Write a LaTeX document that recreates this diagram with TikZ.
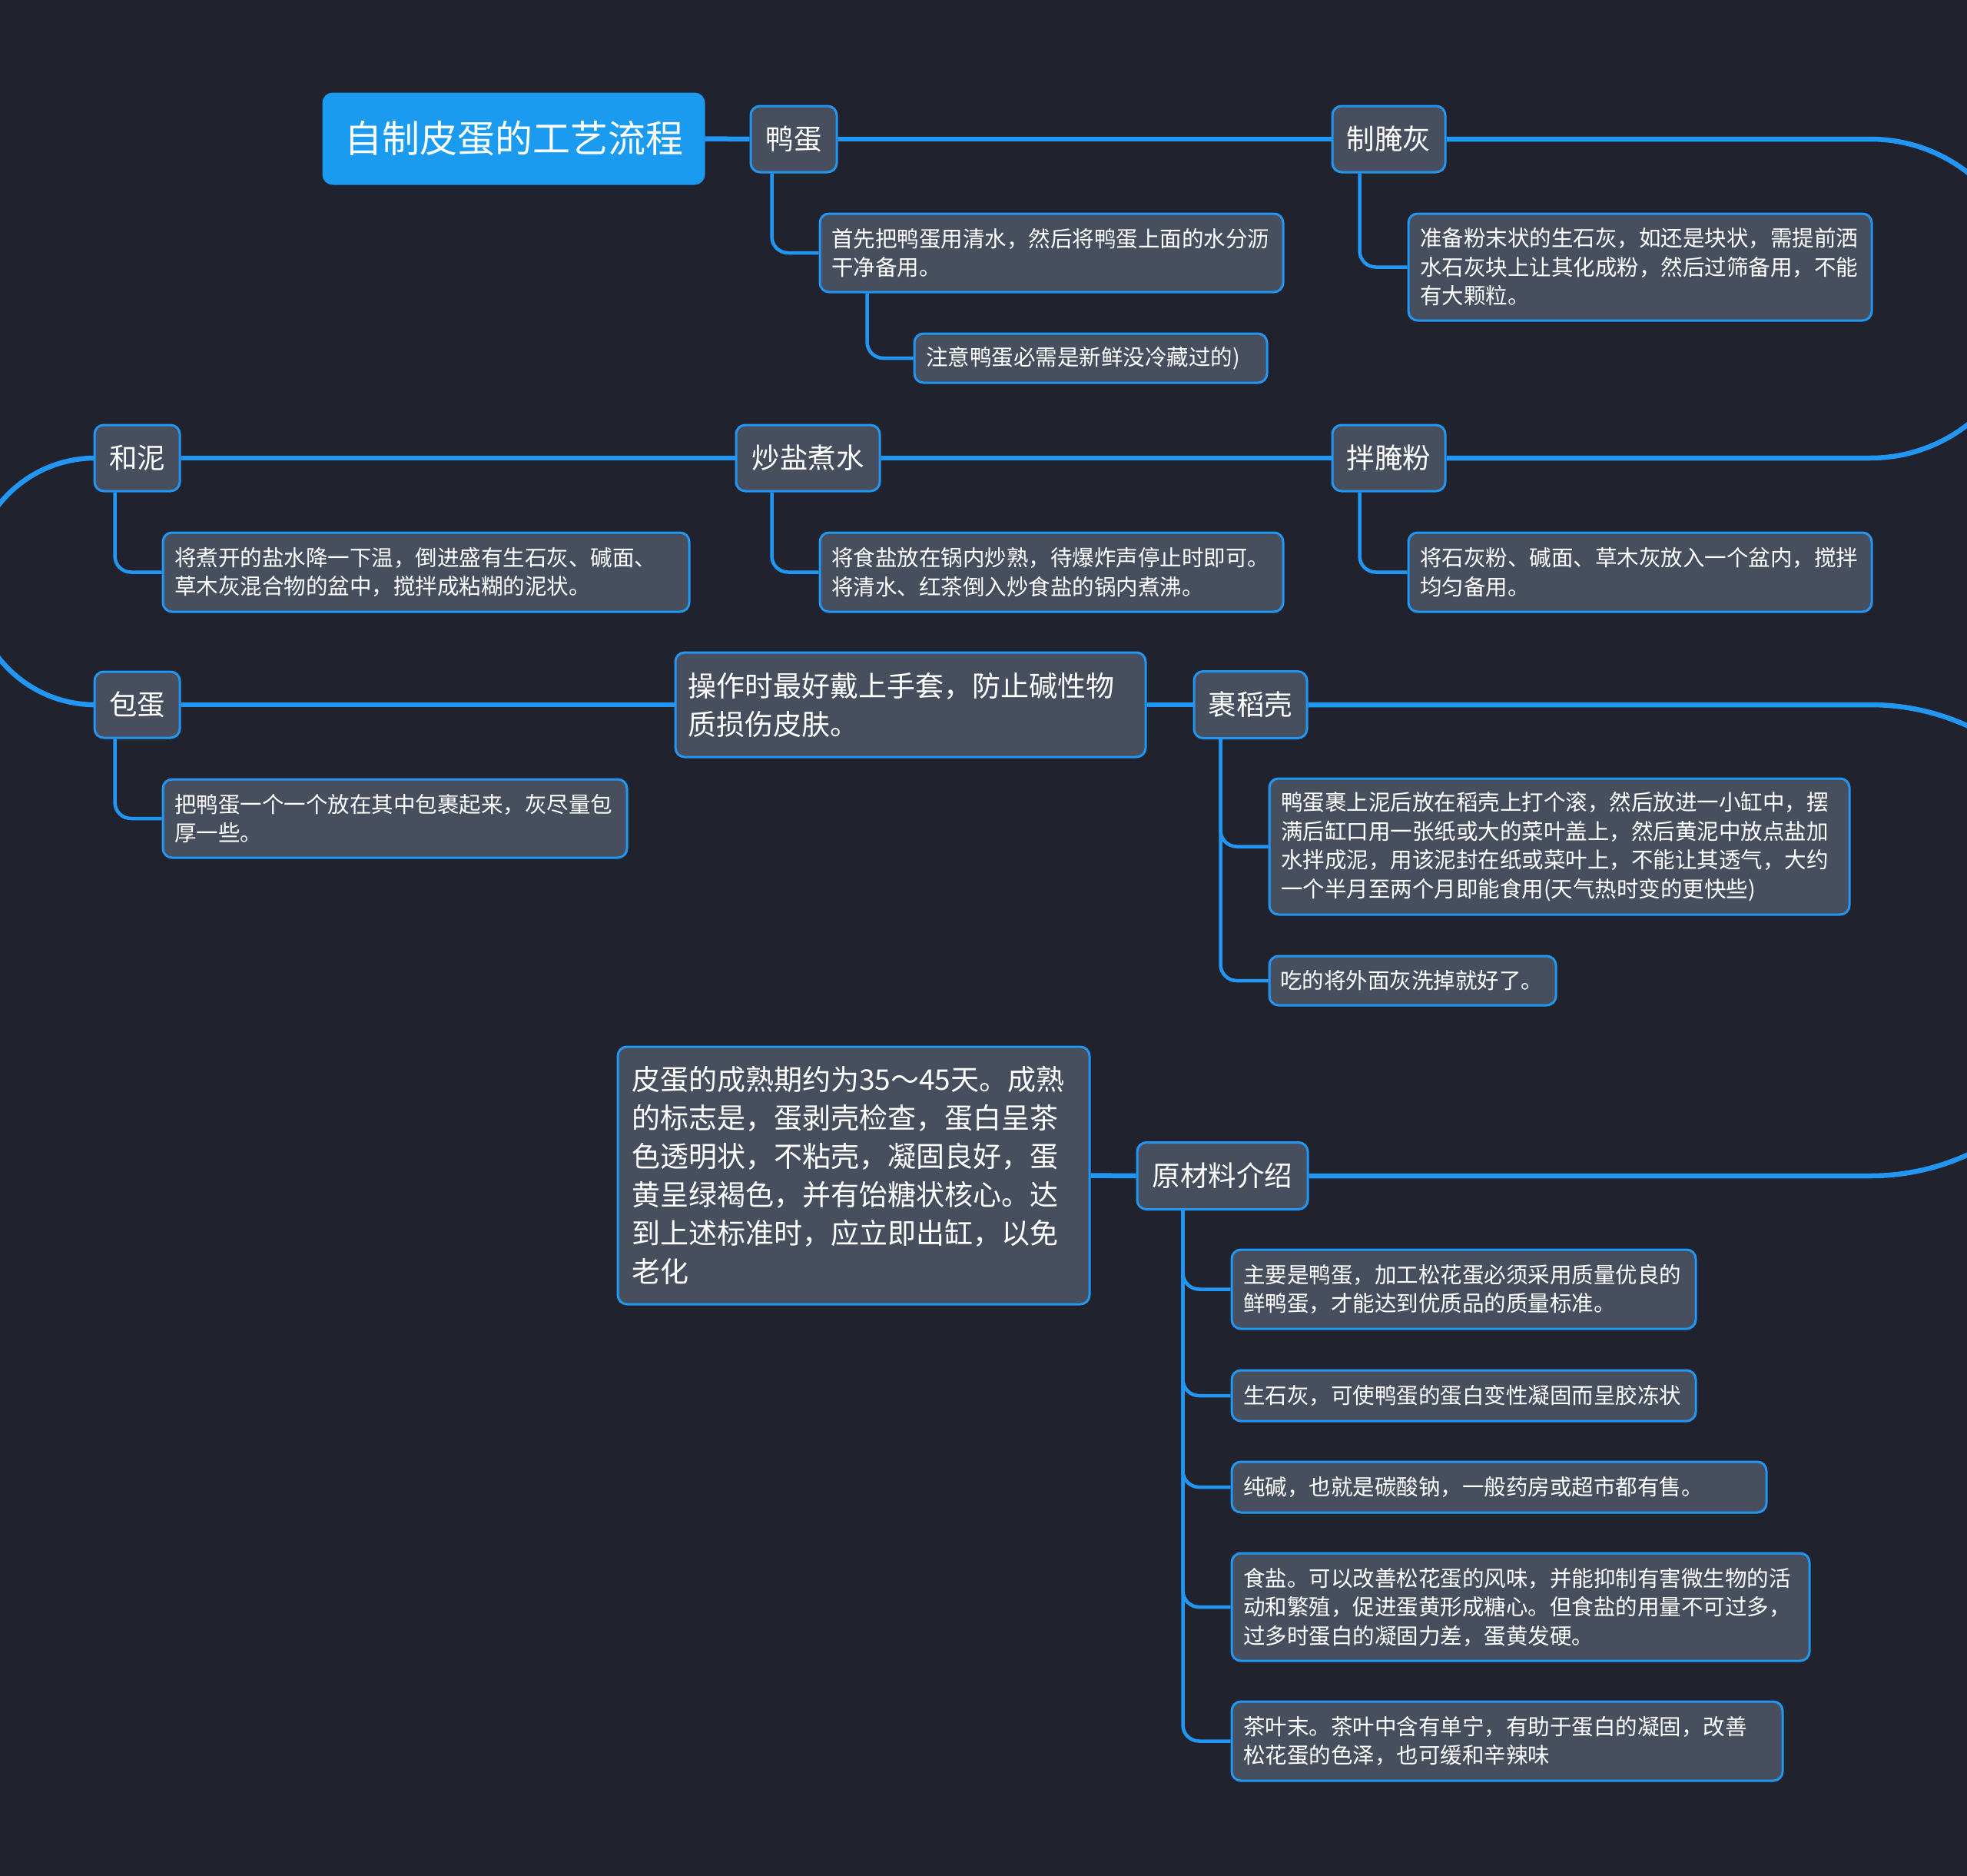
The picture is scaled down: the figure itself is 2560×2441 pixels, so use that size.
\documentclass[tikz,border=0pt]{standalone}
\usepackage{fontspec}
\newfontfamily\cjk{Noto Sans CJK SC}
\usetikzlibrary{calc}
\pgfdeclarelayer{back}
\pgfsetlayers{back,main}
\definecolor{bgc}{HTML}{20232E}
\definecolor{nodefill}{HTML}{474E5D}
\definecolor{lineblue}{HTML}{2196F3}
\definecolor{titlefill}{HTML}{1A9BF0}
\tikzset{
  basebox/.style={draw=lineblue, line width=3pt, fill=nodefill, rounded corners=12pt, text=white, inner sep=0pt, align=left},
  maintitle/.style={basebox, draw=titlefill, fill=titlefill, align=center, font=\cjk\fontsize{49}{58}\selectfont},
  topic/.style={basebox, align=center, font=\cjk\fontsize{36.5}{44}\selectfont},
  detail/.style={basebox, font=\cjk\fontsize{28.5}{37.5}\selectfont},
  bigdetail/.style={basebox, font=\cjk\fontsize{37}{50}\selectfont},
  mainline/.style={draw=lineblue, line width=6.5pt},
  childline/.style={draw=lineblue, line width=4.5pt, rounded corners=21pt}
}
\begin{document}
\begin{tikzpicture}[x=1pt,y=-1pt]
\begin{pgfonlayer}{back}
\fill[bgc] (0,0) rectangle (2560,2441);
\end{pgfonlayer}
\useasboundingbox (0,0) rectangle (2560,2441);

% main nodes
\node[maintitle, minimum width=495pt, minimum height=117pt] (title) at (668.5,180.5) {自制皮蛋的工艺流程};
\node[topic, minimum width=112pt, minimum height=86pt] (yadan) at (1033,181) {鸭蛋};
\node[topic, minimum width=147pt, minimum height=86pt] (zhiyan) at (1807.5,181) {制腌灰};
\node[topic, minimum width=147pt, minimum height=86pt] (banyan) at (1807.5,596) {拌腌粉};
\node[topic, minimum width=187pt, minimum height=86pt] (chaoyan) at (1051.5,596) {炒盐煮水};
\node[topic, minimum width=111pt, minimum height=86pt] (henii) at (178.5,596) {和泥};
\node[topic, minimum width=111pt, minimum height=86pt] (baodan) at (178.5,917) {包蛋};
\node[bigdetail, minimum width=612pt, minimum height=136pt, text width=580pt] (caozuo) at (1185,917) {操作时最好戴上手套，防止碱性物\\质损伤皮肤。};
\node[topic, minimum width=147pt, minimum height=87pt] (guodao) at (1627.5,917) {裹稻壳};
\node[topic, minimum width=222pt, minimum height=87pt] (yuancai) at (1591,1530) {原材料介绍};
\node[bigdetail, minimum width=614pt, minimum height=335pt, text width=578pt] (pidan) at (1111,1529.5) {皮蛋的成熟期约为35～45天。成熟\\的标志是，蛋剥壳检查，蛋白呈茶\\色透明状，不粘壳，凝固良好，蛋\\黄呈绿褐色，并有饴糖状核心。达\\到上述标准时，应立即出缸，以免\\老化};

% detail nodes
\node[detail, minimum width=603pt, minimum height=102pt, text width=573pt] (shouxian) at (1368.5,329) {首先把鸭蛋用清水，然后将鸭蛋上面的水分沥\\干净备用。};
\node[detail, minimum width=459pt, minimum height=64pt, text width=429pt] (zhuyi) at (1419.5,466) {注意鸭蛋必需是新鲜没冷藏过的)};
\node[detail, minimum width=603pt, minimum height=139pt, text width=573pt] (zhunbei) at (2134.5,347.5) {准备粉末状的生石灰，如还是块状，需提前洒\\水石灰块上让其化成粉，然后过筛备用，不能\\有大颗粒。};
\node[detail, minimum width=685pt, minimum height=103pt, text width=655pt] (jiangzhu) at (554.5,744.5) {将煮开的盐水降一下温，倒进盛有生石灰、碱面、\\草木灰混合物的盆中，搅拌成粘糊的泥状。};
\node[detail, minimum width=603pt, minimum height=103pt, text width=573pt] (jiangshi) at (1368.5,744.5) {将食盐放在锅内炒熟，待爆炸声停止时即可。\\将清水、红茶倒入炒食盐的锅内煮沸。};
\node[detail, minimum width=603pt, minimum height=103pt, text width=573pt] (jiangshihui) at (2134.5,744.5) {将石灰粉、碱面、草木灰放入一个盆内，搅拌\\均匀备用。};
\node[detail, minimum width=604pt, minimum height=102pt, text width=574pt] (bayadan) at (514,1065) {把鸭蛋一个一个放在其中包裹起来，灰尽量包\\厚一些。};
\node[detail, minimum width=755pt, minimum height=177pt, text width=725pt] (yadanguo) at (2029.5,1101.5) {鸭蛋裹上泥后放在稻壳上打个滚，然后放进一小缸中，摆\\满后缸口用一张纸或大的菜叶盖上，然后黄泥中放点盐加\\水拌成泥，用该泥封在纸或菜叶上，不能让其透气，大约\\一个半月至两个月即能食用(天气热时变的更快些)};
\node[detail, minimum width=373pt, minimum height=64pt, text width=345pt] (chide) at (1838.5,1276) {吃的将外面灰洗掉就好了。};
\node[detail, minimum width=604pt, minimum height=103pt, text width=574pt] (mA) at (1905,1677.5) {主要是鸭蛋，加工松花蛋必须采用质量优良的\\鲜鸭蛋，才能达到优质品的质量标准。};
\node[detail, minimum width=604pt, minimum height=66pt, text width=574pt] (mB) at (1905,1816) {生石灰，可使鸭蛋的蛋白变性凝固而呈胶冻状};
\node[detail, minimum width=696pt, minimum height=66pt, text width=666pt] (mC) at (1951,1935) {纯碱，也就是碳酸钠，一般药房或超市都有售。};
\node[detail, minimum width=752pt, minimum height=140pt, text width=722pt] (mD) at (1979,2091) {食盐。可以改善松花蛋的风味，并能抑制有害微生物的活\\动和繁殖，促进蛋黄形成糖心。但食盐的用量不可过多，\\过多时蛋白的凝固力差，蛋黄发硬。};
\node[detail, minimum width=717pt, minimum height=103pt, text width=687pt] (mE) at (1961.5,2265.5) {茶叶末。茶叶中含有单宁，有助于蛋白的凝固，改善\\松花蛋的色泽，也可缓和辛辣味};

\coordinate (rA) at (2641,0);
\coordinate (lA) at (-36,0);
\coordinate (rB) at (2740,0);

\begin{pgfonlayer}{back}
% main flow
\draw[mainline] (title.east) -- (yadan.west);
\draw[mainline] (yadan.east) -- (zhiyan.west);
\draw[mainline, rounded corners=207pt] (zhiyan.east) -- (zhiyan.east -| rA) -- (banyan.east -| rA) -- (banyan.east);
\draw[mainline] (banyan.west) -- (chaoyan.east);
\draw[mainline] (chaoyan.west) -- (henii.east);
\draw[mainline, rounded corners=160pt] (henii.west) -- (henii.west -| lA) -- (baodan.west -| lA) -- (baodan.west);
\draw[mainline] (baodan.east) -- (caozuo.west);
\draw[mainline] (caozuo.east) -- (guodao.west);
\draw[mainline, rounded corners=306pt] (guodao.east) -- (guodao.east -| rB) -- (yuancai.east -| rB) -- (yuancai.east);
\draw[mainline] (yuancai.west) -- (pidan.east);
% children
\draw[childline] (yadan.south west) ++(29,0) |- (shouxian.west);
\draw[childline] (shouxian.south west) ++(63,0) |- (zhuyi.west);
\draw[childline] (zhiyan.south west) ++(37,0) |- (zhunbei.west);
\draw[childline] (henii.south west) ++(28,0) |- (jiangzhu.west);
\draw[childline] (chaoyan.south west) ++(48,0) |- (jiangshi.west);
\draw[childline] (banyan.south west) ++(37,0) |- (jiangshihui.west);
\draw[childline] (baodan.south west) ++(28,0) |- (bayadan.west);
\draw[childline] (guodao.south west) ++(36,0) |- (yadanguo.west);
\draw[childline] (guodao.south west) ++(36,0) |- (chide.west);
\draw[childline] (yuancai.south west) ++(61,0) |- (mA.west);
\draw[childline] (yuancai.south west) ++(61,0) |- (mB.west);
\draw[childline] (yuancai.south west) ++(61,0) |- (mC.west);
\draw[childline] (yuancai.south west) ++(61,0) |- (mD.west);
\draw[childline] (yuancai.south west) ++(61,0) |- (mE.west);
\end{pgfonlayer}
\end{tikzpicture}
\end{document}
